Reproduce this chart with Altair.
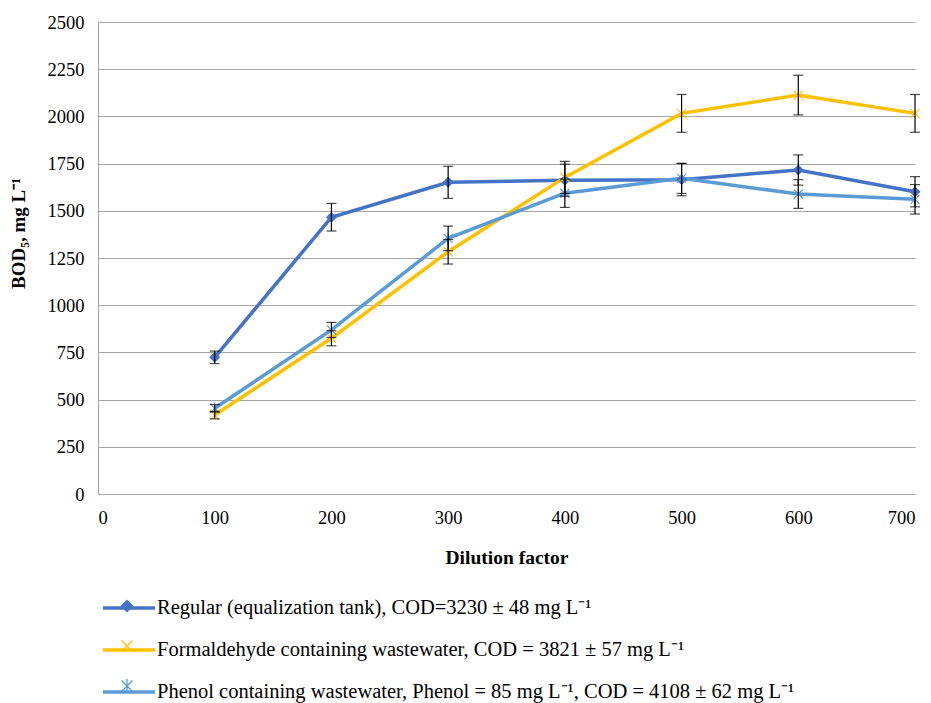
import altair as alt
import pandas as pd

dilution = [100, 200, 300, 400, 500, 600, 700]
regular = [724, 1466, 1651, 1662, 1665, 1716, 1601]
regular_err = [33, 73, 85, 85, 85, 80, 80]
formal = [418, 825, 1283, 1677, 2016, 2113, 2016]
formal_err = [20, 40, 65, 85, 100, 105, 100]
phenol = [454, 869, 1354, 1593, 1672, 1589, 1561]
phenol_err = [20, 40, 65, 75, 80, 76, 78]

names = [
    "Regular (equalization tank), COD=3230 ± 48 mg L⁻¹",
    "Formaldehyde containing wastewater, COD = 3821 ± 57 mg L⁻¹",
    "Phenol containing wastewater, Phenol = 85 mg L⁻¹, COD = 4108 ± 62 mg L⁻¹",
]
colors = ["#4472C4", "#FFC000", "#5B9BD5"]

ARM1 = "M-0.41,-0.49L0.49,0.41L0.41,0.49L-0.49,-0.41Z"
ARM2 = "M0.41,-0.49L0.49,-0.41L-0.41,0.49L-0.49,0.41Z"
shapes = [
    "M0,-0.55L0.55,0L0,0.55L-0.55,0Z",
    ARM1 + ARM2,
    ARM1 + ARM2 + "M-0.055,-0.58L0.055,-0.58L0.055,0.58L-0.055,0.58Z",
]

rows = []
for name, vals, errs in zip(names, [regular, formal, phenol], [regular_err, formal_err, phenol_err]):
    for x, v, e in zip(dilution, vals, errs):
        rows.append({"series": name, "x": x, "y": v, "lo": v - e, "hi": v + e})
df = pd.DataFrame(rows)

FONT = "Liberation Serif"
LX, LY = 17, 572
LSIZE = 576

xenc = alt.X("x:Q", title="Dilution factor",
             scale=alt.Scale(domain=[0, 700], nice=False),
             axis=alt.Axis(values=list(range(0, 701, 100)), grid=False, ticks=False,
                           labelPadding=14, titlePadding=22,
                           labelFont=FONT, labelFontSize=18.5, titleFont=FONT, titleFontSize=19.5))
yenc = alt.Y("y:Q", title="BOD₅, mg L⁻¹",
             scale=alt.Scale(domain=[0, 2500], nice=False),
             axis=alt.Axis(values=list(range(0, 2501, 250)), grid=True, ticks=False,
                           labelPadding=14, format="d",
                           titleX=-80, titleY=211, titleAlign="center", titleBaseline="middle",
                           titleAngle=270,
                           labelFont=FONT, labelFontSize=18.5, titleFont=FONT, titleFontSize=19))

legA = alt.Legend(title=None, orient="none", legendX=LX, legendY=LY, direction="vertical",
                  symbolType="M-2.17,0L2.17,0", symbolSize=LSIZE, symbolStrokeWidth=3.5,
                  rowPadding=17, labelOffset=14, labelLimit=0, padding=0,
                  labelFont=FONT, labelFontSize=20.5, labelColor="black")
legB = alt.Legend(title=None, orient="none", legendX=LX, legendY=LY, direction="vertical",
                  symbolSize=LSIZE, symbolStrokeWidth=0,
                  rowPadding=17, labelOffset=14, labelLimit=0, padding=0,
                  labelFont=FONT, labelFontSize=20.5, labelExpr="''")

cscale = alt.Scale(domain=names, range=colors)

lines = alt.Chart(df).mark_line(strokeWidth=3.5).encode(
    x=xenc, y=yenc,
    color=alt.Color("series:N", scale=cscale, legend=legA),
)

points = alt.Chart(df).mark_point(size=400, filled=True, opacity=1, strokeWidth=0).encode(
    x="x:Q", y="y:Q",
    color=alt.Color("series:N", scale=cscale, legend=legB),
    shape=alt.Shape("series:N", scale=alt.Scale(domain=names, range=shapes), legend=legB),
)

bars = alt.Chart(df).mark_errorbar(ticks={"size": 10}, color="black", thickness=1.2).encode(
    x="x:Q", y=alt.Y("lo:Q", title="BOD₅, mg L⁻¹"), y2="hi:Q",
)

chart = alt.layer(lines, points, bars).resolve_scale(
    color="independent", shape="independent"
).properties(
    width=817, height=472,
    autosize=alt.AutoSizeParams(type="none"),
    padding={"left": 90, "top": 14, "right": 8, "bottom": 209},
).configure_view(stroke=None).configure_axis(
    labelColor="black", titleFontWeight="bold", titleColor="black",
    domainColor="#A6A6A6", gridColor="#A6A6A6", gridWidth=1,
)

chart.save("out.html", embed_options={"renderer": "svg", "actions": False})
